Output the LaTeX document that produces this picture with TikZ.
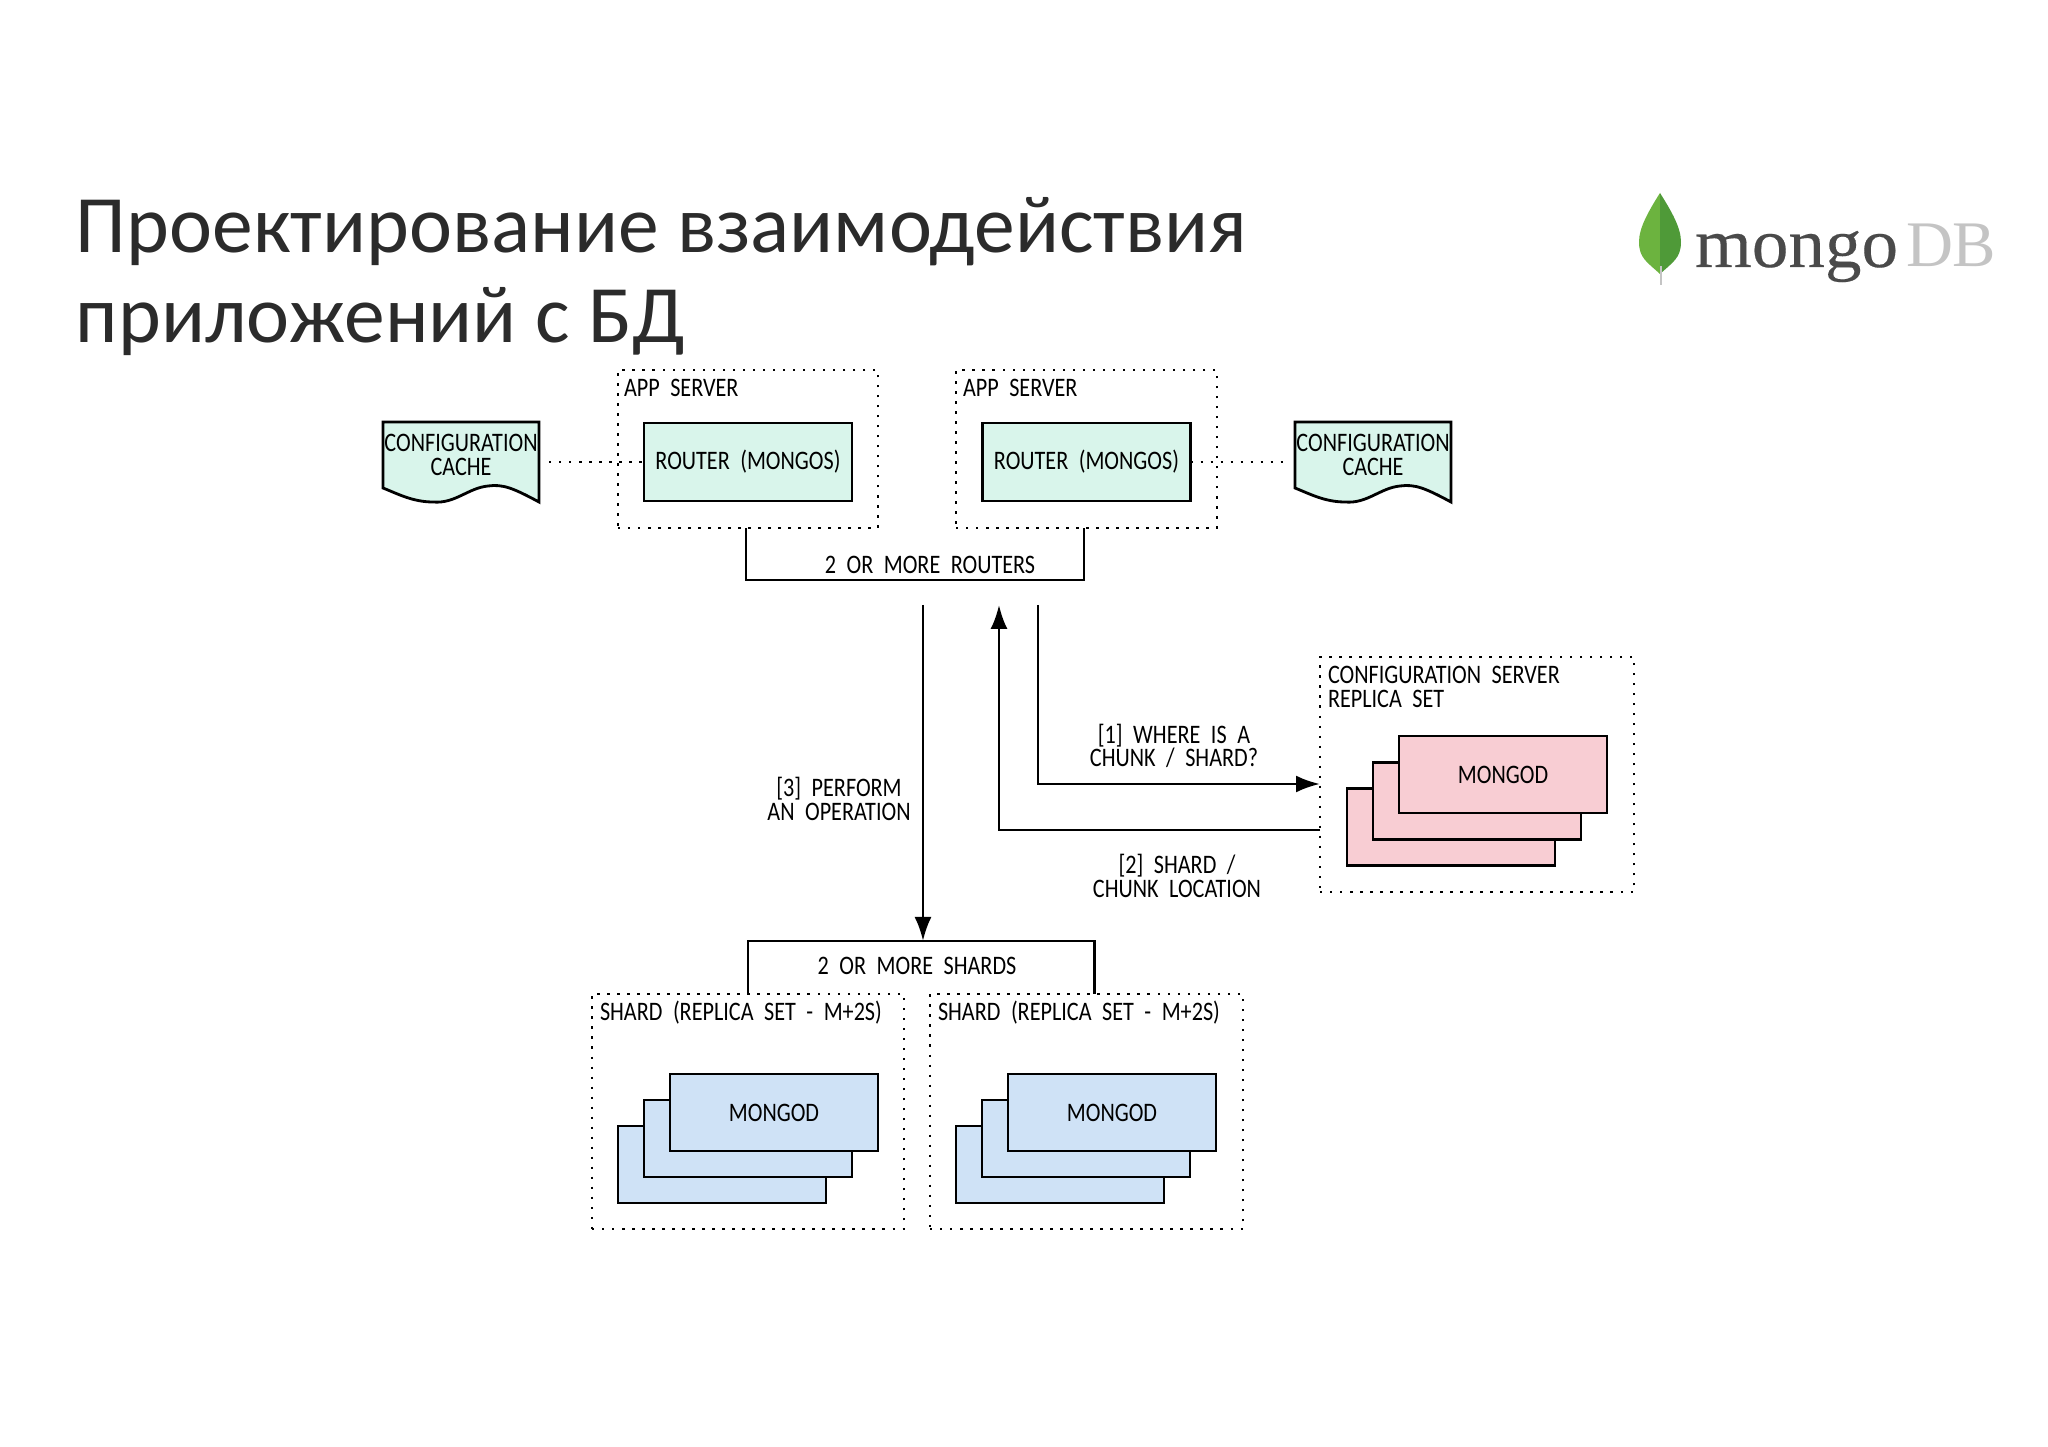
\documentclass[tikz,border=0pt]{standalone}
\usepackage{fontspec}
\setmainfont{Carlito}
\newfontfamily\handfont[FakeStretch=0.83,WordSpace=2.1]{Carlito}
\newfontfamily\logofont[FakeStretch=1.04,FakeBold=0.25]{Liberation Serif}
\newfontfamily\logofontB{Liberation Serif}
\usetikzlibrary{arrows.meta,positioning}
\definecolor{RouterGreen}{HTML}{D9F5EB}
\definecolor{ConfigPink}{HTML}{F8CDD3}
\definecolor{ShardBlue}{HTML}{CFE2F6}
\definecolor{LeafLight}{HTML}{6CB33F}
\definecolor{LeafDark}{HTML}{4F9A38}
\definecolor{LogoDark}{HTML}{4A4A4A}
\definecolor{LogoGrey}{HTML}{C4C4C4}
\definecolor{TitleInk}{HTML}{2B2B2B}

\begin{document}
\begin{tikzpicture}[
  font=\handfont\fontsize{7.6}{6.7}\selectfont,
  >={Latex[length=0.24cm,width=0.17cm]},
  line width=0.8pt,
  outer sep=0pt,
  % dotted grouping box
  dotbox/.style={draw, line width=0.7pt, dash pattern=on 0.7pt off 2.15pt,
                 inner sep=0pt},
  % box label, top left of a group
  boxlbl/.style={anchor=west, align=left, inner sep=0pt},
  % router box
  router/.style={draw, fill=RouterGreen, minimum width=2.08cm,
                 minimum height=0.78cm, inner sep=0pt},
  % one mongod box of a stack
  mgdP/.style={draw, fill=ConfigPink, minimum width=2.08cm,
               minimum height=0.77cm, inner sep=0pt},
  mgdB/.style={draw, fill=ShardBlue, minimum width=2.08cm,
               minimum height=0.77cm, inner sep=0pt},
  % free text on a connector
  flow/.style={align=center, inner sep=0pt},
  % slide title line
  ttl/.style={anchor=base west, inner sep=0pt, text=TitleInk,
              font=\normalfont\fontsize{23.2}{24}\selectfont},
  % logo word
  logo/.style={anchor=base west, inner sep=0pt},
]
\useasboundingbox (0,0) rectangle (20.48,-14.47);

%% Title
\node[ttl] (titleA) at (0.76,-2.53) {Проектирование взаимодействия};
\node[ttl] (titleB) at (0.76,-3.43) {приложений с БД};

%% Logo
\fill[LeafLight] (16.60,-1.93) .. controls (16.48,-2.12) and (16.39,-2.28) .. (16.39,-2.42)
  .. controls (16.39,-2.58) and (16.47,-2.62) .. (16.60,-2.74) -- cycle;
\fill[LeafDark] (16.60,-1.93) .. controls (16.72,-2.12) and (16.81,-2.28) .. (16.81,-2.42)
  .. controls (16.81,-2.58) and (16.73,-2.62) .. (16.60,-2.74) -- cycle;
\draw[LogoGrey, line width=0.8pt] (16.61,-2.66) -- (16.61,-2.85);
\node[logo, text=LogoDark, font=\logofont\fontsize{20}{20}\selectfont] (logoA) at (16.95,-2.67) {mongo};
\node[logo, text=LogoGrey, font=\logofontB\fontsize{18.5}{19}\selectfont] (logoB) at (19.06,-2.67) {DB};

%% App servers
\node[dotbox, minimum width=2.60cm, minimum height=1.58cm] (appA) at (7.48,-4.49) {};
\node[dotbox, minimum width=2.61cm, minimum height=1.58cm] (appB) at (10.865,-4.49) {};
\node[boxlbl] at (6.24,-3.88) {APP SERVER};
\node[boxlbl] at (9.63,-3.88) {APP SERVER};
\node[router] (routerA) at (7.48,-4.62) {ROUTER (MONGOS)};
\node[router] (routerB) at (10.865,-4.62) {ROUTER (MONGOS)};

%% Configuration caches
\foreach \x in {3.83,12.95}{
  \begin{scope}[shift={(\x,-4.22)}]
    \filldraw[fill=RouterGreen] (0,0) -- (1.56,0) -- (1.56,-0.80)
      .. controls (1.30,-0.66) and (1.20,-0.62) .. (1.05,-0.64)
      .. controls (0.85,-0.66) and (0.72,-0.82) .. (0.50,-0.80)
      .. controls (0.30,-0.80) and (0.15,-0.72) .. (0,-0.66) -- cycle;
  \end{scope}
}
\node[flow] (cacheA) at (4.61,-4.55) {CONFIGURATION\\CACHE};
\node[flow] (cacheB) at (13.73,-4.55) {CONFIGURATION\\CACHE};
\coordinate (cacheAe) at (5.49,-4.62);
\coordinate (cacheBw) at (12.87,-4.62);
\draw[dotbox] (cacheAe) -- (routerA.west);
\draw[dotbox] (routerB.east) -- (cacheBw);

%% Router bracket
\draw ([xshift=-0.02cm]appA.south) -- ++(0,-0.52) -| ([xshift=-0.025cm]appB.south);
\node[flow] (routersLbl) at (9.30,-5.65) {2 OR MORE ROUTERS};

%% Configuration server
\node[dotbox, minimum width=3.14cm, minimum height=2.35cm] (cfgSrv) at (14.77,-7.745) {};
\node[boxlbl] at (13.28,-6.75) {CONFIGURATION SERVER};
\node[boxlbl] at (13.28,-6.99) {REPLICA SET};
\node[mgdP] (cfgC) at (14.51,-8.27) {};
\node[mgdP] (cfgB) at (14.77,-8.01) {};
\node[mgdP] (cfgA) at (15.03,-7.745) {MONGOD};

%% Shards
\node[dotbox, minimum width=3.12cm, minimum height=2.35cm] (shardA) at (7.48,-11.115) {};
\node[dotbox, minimum width=3.13cm, minimum height=2.35cm] (shardB) at (10.865,-11.115) {};
\node[boxlbl] at (6.00,-10.13) {SHARD (REPLICA SET - M+2S)};
\node[boxlbl] at (9.38,-10.13) {SHARD (REPLICA SET - M+2S)};
\foreach \n/\x in {shardAm/7.48,shardBm/10.86}{
  \node[mgdB] (\n C) at (\x-0.26,-11.645) {};
  \node[mgdB] (\n B) at (\x,-11.385) {};
  \node[mgdB] (\n A) at (\x+0.26,-11.125) {MONGOD};
}

%% Shard bracket
\draw ([xshift=0cm]shardA.north) -- ++(0,0.53) coordinate (shTopL)
  -| ([xshift=0.08cm]shardB.north);
\node[flow] (shardsLbl) at (9.17,-9.66) {2 OR MORE SHARDS};

%% Flows
\coordinate (opTop) at (9.23,-6.05);
\coordinate (askTop) at (10.38,-6.05);
\coordinate (ansTop) at (9.99,-6.05);
\draw[->] (opTop) -- (opTop |- shTopL);
\draw[->] (askTop) |- (cfgSrv.west |- 0,-7.84);
\draw[->, line width=0.7pt] (cfgSrv.west |- 0,-8.30) -| (ansTop);
\node[flow] (opLbl) at (8.39,-7.99) {[3] PERFORM\\AN OPERATION};
\node[flow] (askLbl) at (11.74,-7.46) {[1] WHERE IS A\\CHUNK / SHARD?};
\node[flow] (ansLbl) at (11.77,-8.76) {[2] SHARD /\\CHUNK LOCATION};

\end{tikzpicture}
\end{document}
